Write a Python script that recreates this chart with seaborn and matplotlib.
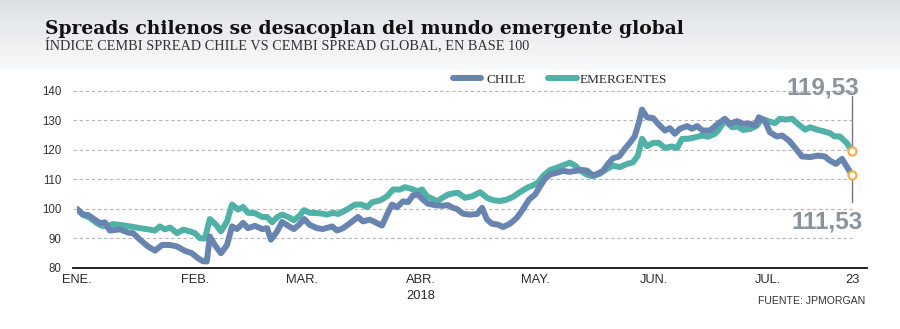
import numpy as np
import pandas as pd
import matplotlib
matplotlib.use("Agg")
import matplotlib.pyplot as plt
from matplotlib.colors import LinearSegmentedColormap
import seaborn as sns

# ---------------- data ----------------
title = "Spreads chilenos se desacoplan del mundo emergente global"
subtitle = "ÍNDICE CEMBI SPREAD CHILE VS CEMBI SPREAD GLOBAL, EN BASE 100"
source = "FUENTE: JPMORGAN"
series_names = ["CHILE", "EMERGENTES"]
start_date = "2018-01-01"
end_label = "23"
year_label = "2018"
month_labels = ["ENE.", "FEB.", "MAR.", "ABR.", "MAY.", "JUN.", "JUL."]
y_ticks = [80, 90, 100, 110, 120, 130, 140]

# days since 1 Jan 2018
chile_day = [0, 1.6, 2.9, 4.7, 6.0, 7.3, 8.6, 11.3, 13.4, 14.7, 16.5, 18.6, 20.4, 22.3, 24.4,
             26.2, 28.3, 30.1, 31.7, 33.0, 34.0, 34.8, 36.1, 37.7, 39.3, 40.6, 41.9, 43.5, 44.8,
             46.6, 48.5, 49.8, 50.8, 52.4, 53.7, 55.3, 56.8, 58.1, 59.5, 61.0, 62.9, 64.4, 66.8,
             68.1, 69.7, 71.5, 73.6, 74.9, 76.7, 78.6, 79.9, 81.2, 82.5, 83.8, 85.4, 86.7, 88.0,
             89.3, 90.6, 91.9, 93.8, 95.6, 97.2, 98.5, 99.5, 101.1, 102.9, 104.8, 106.1, 107.4,
             108.7, 110.3, 111.6, 113.4, 115.2, 116.8, 118.4, 120.0, 121.3, 122.6, 123.9, 125.7,
             127.3, 129.1, 130.9, 132.5, 133.6, 135.1, 136.5, 137.8, 139.1, 140.4, 142.0, 143.5,
             144.8, 146.1, 147.2, 148.0, 149.3, 150.9, 152.2, 154.0, 155.3, 156.6, 157.9, 159.8,
             161.1, 162.4, 163.9, 165.8, 167.9, 169.7, 171.0, 172.9, 174.4, 176.3, 177.6, 178.6,
             180.2, 181.5, 183.3, 184.7, 186.5, 188.3, 189.9, 192.0, 194.1, 195.9, 197.2, 198.8,
             200.4, 201.7, 203]
chile_value = [100, 98.1, 98.0, 96.4, 95.2, 95.5, 92.7, 93.1, 92.0, 91.8, 89.6, 87.3, 85.9, 87.8,
               87.8, 87.3, 85.8, 85.0, 83.3, 82.3, 82.2, 90.7, 87.8, 85.0, 87.8, 94.1, 93.2, 95.3,
               93.5, 94.3, 93.2, 93.5, 89.6, 92.4, 95.6, 94.3, 93.2, 94.6, 96.6, 94.6, 93.5, 93.2,
               94.1, 92.7, 93.5, 95.2, 97.3, 95.8, 96.4, 95.2, 94.4, 98.1, 101.5, 100.6, 102.6,
               102.3, 104.6, 104.9, 103.2, 101.8, 101.3, 101.1, 101.3, 100.4, 100.0, 98.4, 98.1,
               98.3, 100.4, 96.4, 95.0, 94.7, 93.9, 95.0, 97.0, 99.9, 103.2, 104.9, 107.7, 110.3,
               111.7, 112.3, 112.9, 112.6, 113.0, 113.2, 113.0, 111.4, 112.0, 113.0, 115.3, 117.2,
               117.8, 120.4, 122.4, 124.7, 129.4, 133.7, 131.1, 130.8, 128.9, 126.6, 127.4, 125.5,
               127.2, 128.1, 127.2, 128.1, 126.6, 126.6, 128.9, 130.6, 128.9, 129.8, 128.9, 128.9,
               128.3, 131.1, 129.8, 126.0, 124.6, 124.9, 123.2, 120.4, 117.8, 117.6, 118.1, 117.8,
               116.4, 115.3, 117.0, 114.2, 111.53]

emerg_day = [0, 1.6, 3.4, 5.2, 6.5, 7.9, 9.4, 11.3, 13.9, 16.5, 19.1, 20.4, 21.7, 23.0, 24.4,
             26.2, 27.8, 29.6, 30.9, 32.2, 33.5, 34.8, 36.4, 37.7, 39.3, 40.6, 42.2, 43.5, 44.8,
             46.6, 48.5, 49.8, 51.1, 52.4, 53.7, 55.3, 56.8, 58.1, 59.5, 61.0, 62.9, 64.4, 65.5,
             67.1, 68.4, 70.7, 72.8, 74.6, 76.0, 77.3, 79.4, 81.2, 82.8, 84.6, 85.9, 87.7, 89.1,
             90.4, 91.7, 93.2, 94.3, 95.6, 97.2, 98.5, 99.8, 101.6, 103.5, 105.6, 107.4, 109.0,
             110.8, 112.6, 114.2, 116.0, 117.9, 119.4, 120.7, 122.1, 123.9, 125.7, 127.3, 129.1,
             130.4, 131.7, 133.6, 135.1, 137.0, 138.8, 140.4, 142.2, 144.1, 145.6, 146.9, 148.0,
             149.3, 150.9, 152.4, 154.0, 155.8, 157.2, 158.5, 160.0, 161.9, 163.7, 165.3, 167.1,
             167.9, 169.7, 171.6, 173.1, 174.4, 176.3, 178.1, 179.4, 181.0, 182.8, 184.1, 185.7,
             187.3, 188.8, 190.7, 192.0, 193.8, 195.4, 197.2, 198.5, 199.8, 201.7, 203]
emerg_value = [100, 98.0, 97.0, 95.2, 94.3, 94.1, 94.9, 94.6, 94.1, 93.5, 93.0, 92.7, 94.1, 93.1,
               93.7, 91.8, 93.0, 92.4, 91.8, 90.1, 90.0, 96.6, 94.7, 92.4, 95.8, 101.5, 99.8,
               100.7, 98.7, 98.6, 97.3, 97.3, 95.5, 97.2, 98.1, 97.3, 96.2, 97.5, 99.6, 98.7, 98.6,
               98.4, 98.1, 98.7, 98.3, 99.8, 101.5, 101.5, 100.6, 102.3, 102.9, 104.3, 106.6,
               106.6, 107.4, 106.8, 106.0, 106.6, 104.3, 103.4, 102.6, 103.7, 104.9, 105.3, 105.5,
               103.8, 104.3, 105.7, 103.8, 103.0, 102.7, 103.2, 104.1, 105.7, 107.2, 108.0, 108.9,
               111.2, 113.2, 114.0, 114.8, 115.7, 114.8, 113.2, 111.6, 111.1, 112.0, 113.6, 114.7,
               114.2, 115.3, 115.8, 118.1, 123.8, 121.3, 122.4, 122.4, 120.7, 121.2, 120.7, 123.8,
               123.8, 124.3, 124.9, 124.5, 125.5, 126.6, 130.0, 127.7, 128.0, 126.8, 127.1, 128.3,
               130.6, 129.8, 129.1, 130.6, 130.3, 130.6, 128.9, 126.9, 127.7, 126.9, 126.4, 125.7,
               124.6, 124.6, 122.3, 119.53]

# ---------------- style ----------------
chile_color = "#6884b0"
emerg_color = "#50b1a6"
marker_color = "#f2b04c"
label_grey = "#8a949e"
text_dark = "#2a2a2a"

sns.set_theme(style="white")
plt.rcParams["font.family"] = ["Liberation Sans", "DejaVu Sans"]
SERIF = ["Liberation Serif", "DejaVu Serif"]

W, H = 900, 329
fig = plt.figure(figsize=(W / 100, H / 100), dpi=100)

# header gradient
hax = fig.add_axes([0, 1 - 70 / H, 1, 70 / H], zorder=0)
grad = np.linspace(0, 1, 100).reshape(-1, 1)
cmap = LinearSegmentedColormap.from_list("hdr", ["#dde1e6", "#f9fafb"])
hax.imshow(grad, aspect="auto", cmap=cmap, extent=[0, 1, 0, 1], origin="upper")
hax.axis("off")

fig.text(45 / W, 1 - 34 / H, title, fontsize=13.5, fontweight="bold",
         family=["DejaVu Serif"], color="#111111", va="baseline")
fig.text(45 / W, 1 - 49 / H, subtitle, fontsize=10.3, family=SERIF, color="#333333",
         va="baseline")

# main axes
last_day = chile_day[-1]
px_per_day = (852 - 77) / last_day
ax = fig.add_axes([77 / W, 1 - 268 / H, (867 - 77) / W, (268 - 91) / H], zorder=2)
ax.patch.set_alpha(0)

df_chile = pd.DataFrame({"day": chile_day, "valor": chile_value})
df_emerg = pd.DataFrame({"day": emerg_day, "valor": emerg_value})

sns.lineplot(data=df_emerg, x="day", y="valor", ax=ax, color=emerg_color, lw=4.3,
             solid_capstyle="round", solid_joinstyle="round", zorder=3)
sns.lineplot(data=df_chile, x="day", y="valor", ax=ax, color=chile_color, lw=4.3,
             solid_capstyle="round", solid_joinstyle="round", zorder=4)

ax.set_xlim(0, last_day + (867 - 852) / px_per_day)
ax.set_ylim(y_ticks[0], y_ticks[-1])

# grid (dashed) limited to the data span
for yv in y_ticks[1:]:
    ax.plot([-1, last_day], [yv, yv], color="#b5b5b5", lw=0.8, ls=(0, (3, 2.5)), zorder=1,
            clip_on=False)

for side in ["top", "right", "left"]:
    ax.spines[side].set_visible(False)
ax.spines["bottom"].set_color("#111111")
ax.spines["bottom"].set_linewidth(1.3)
ax.spines["bottom"].set_bounds(-1, ax.get_xlim()[1])

ax.set_yticks(y_ticks)
ax.set_yticklabels([str(v) for v in y_ticks], fontsize=8.3, color="#333333")
month_starts = pd.date_range(start_date, periods=len(month_labels), freq="MS")
tick_days = [(d - pd.Timestamp(start_date)).days for d in month_starts] + [last_day]
ax.set_xticks(tick_days)
ax.set_xticklabels(month_labels + [end_label], fontsize=9.3, color=text_dark)
ax.tick_params(axis="y", length=0, pad=11)
ax.tick_params(axis="x", length=0, pad=4)
ax.set_xlabel("")
ax.set_ylabel("")

# year label under ABR.
abr_day = tick_days[3]
ax.text(abr_day, -0.125, year_label, transform=ax.get_xaxis_transform(), ha="center",
        va="top", fontsize=9.3, color=text_dark)

# end markers and labels
chile_end = chile_value[-1]
emerg_end = emerg_value[-1]
ax.plot([last_day, last_day], [emerg_end, 138.2], color="#777777", lw=1, zorder=2, clip_on=False)
ax.plot([last_day, last_day], [chile_end, 102.3], color="#777777", lw=1, zorder=2, clip_on=False)
ax.scatter([last_day, last_day], [emerg_end, chile_end], s=34, facecolor="white",
           edgecolor=marker_color, linewidth=1.6, zorder=6, clip_on=False)
fig.text(859 / W, 1 - 95 / H, f"{emerg_end:.2f}".replace(".", ","), fontsize=17.5,
         fontweight="bold", color=label_grey, ha="right", va="baseline")
fig.text(863 / W, 1 - 228 / H, f"{chile_end:.2f}".replace(".", ","), fontsize=17.5,
         fontweight="bold", color=label_grey, ha="right", va="baseline")

# legend
fig.add_artist(plt.Line2D([453 / W, 481 / W], [1 - 78 / H, 1 - 78 / H], color=chile_color,
                          lw=4.3, solid_capstyle="round"))
fig.text(486 / W, 1 - 83 / H, series_names[0], fontsize=9.5, family=SERIF, color=text_dark,
         va="baseline")
fig.add_artist(plt.Line2D([548 / W, 577 / W], [1 - 78 / H, 1 - 78 / H], color=emerg_color,
                          lw=4.3, solid_capstyle="round"))
fig.text(580 / W, 1 - 83 / H, series_names[1], fontsize=9.5, family=SERIF, color=text_dark,
         va="baseline")

fig.text(865 / W, 1 - 304 / H, source, fontsize=7.6, color="#333333", ha="right",
         va="baseline")

fig.savefig("out.png", dpi=100, facecolor="white")
